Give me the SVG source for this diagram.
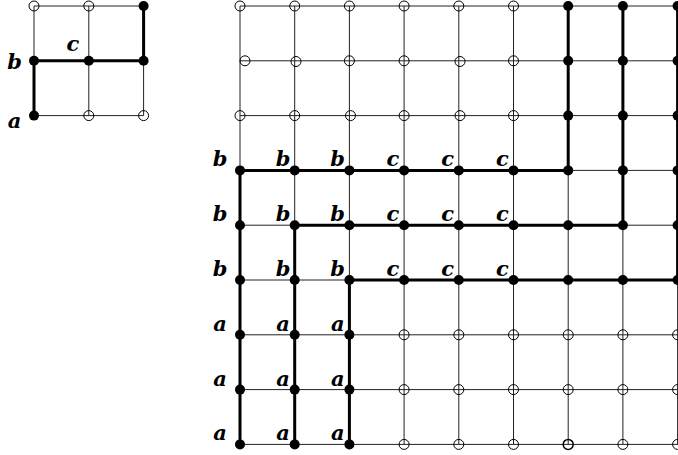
<svg xmlns="http://www.w3.org/2000/svg" width="678" height="455" viewBox="0 0 678 455">
<style>
.grid{stroke:#222;stroke-width:1;fill:none}
.path{stroke:#000;stroke-width:3;fill:none;stroke-linejoin:miter}
.o{fill:none;stroke:#000;stroke-width:1}
.f{fill:#000;stroke:none}
.lbl{font-family:"DejaVu Serif","Liberation Serif",serif;font-weight:bold;font-style:italic;font-size:21px;fill:#000;text-anchor:middle}
</style>
<g id="connectors">
<path class="grid" d="M34,6H143.6M34,60.8H143.6M34,115.6H143.6M34,6V115.6M88.8,6V115.6M143.6,6V115.6"/>
<path class="grid" d="M240,6H678M240,60.8H678M240,115.6H678M240,170.4H678M240,225.2H678M240,280H678M240,334.8H678M240,389.6H678M240,444.4H678
M240,6V444.4M294.7,6V444.4M349.4,6V444.4M404.1,6V444.4M458.8,6V444.4M513.5,6V444.4M568.2,6V444.4M622.9,6V444.4M677.6,6V444.4"/>
<path class="path" d="M34,115.6V60.8H143.6V6"/>
<path class="path" d="M240,444.4V170.4H568.2V6"/>
<path class="path" d="M294.7,444.4V225.2H622.9V6"/>
<path class="path" d="M349.4,444.4V280H677.6V6"/>
</g>
<g id="small-grid">
<g id="s00"><circle class="o" cx="34" cy="6" r="5"/></g>
<g id="s10"><circle class="o" cx="88.8" cy="6" r="5"/></g>
<g id="s20"><circle class="f" cx="143.6" cy="6" r="5"/></g>
<g id="s01"><circle class="f" cx="34" cy="60.8" r="5"/></g>
<g id="s11"><circle class="f" cx="88.8" cy="60.8" r="5"/></g>
<g id="s21"><circle class="f" cx="143.6" cy="60.8" r="5"/></g>
<g id="s02"><circle class="f" cx="34" cy="115.6" r="5"/></g>
<g id="s12"><circle class="o" cx="88.8" cy="115.6" r="5"/></g>
<g id="s22"><circle class="o" cx="143.6" cy="115.6" r="5"/></g>
<text class="lbl" x="14.5" y="69">b</text>
<text class="lbl" x="14.5" y="128">a</text>
<text class="lbl" x="73" y="51">c</text>
</g>
<g id="large-grid">
<g id="n0-0"><circle class="o" cx="240" cy="6" r="5"/></g>
<g id="n1-0"><circle class="o" cx="294.7" cy="6" r="5"/></g>
<g id="n2-0"><circle class="o" cx="349.4" cy="6" r="5"/></g>
<g id="n3-0"><circle class="o" cx="404.1" cy="6" r="5"/></g>
<g id="n4-0"><circle class="o" cx="458.8" cy="6" r="5"/></g>
<g id="n5-0"><circle class="o" cx="513.5" cy="6" r="5"/></g>
<g id="n6-0"><circle class="f" cx="568.2" cy="6" r="5"/></g>
<g id="n7-0"><circle class="f" cx="622.9" cy="6" r="5"/></g>
<g id="n8-0"><circle class="f" cx="677.6" cy="6" r="5"/></g>
<g id="n0-1"><circle class="o" cx="245" cy="60.8" r="5"/></g>
<g id="n1-1"><circle class="o" cx="296" cy="61.5" r="5"/></g>
<g id="n2-1"><circle class="o" cx="349.4" cy="60.8" r="5"/></g>
<g id="n3-1"><circle class="o" cx="404.1" cy="60.8" r="5"/></g>
<g id="n4-1"><circle class="o" cx="460" cy="61.5" r="5"/></g>
<g id="n5-1"><circle class="o" cx="513.5" cy="60.8" r="5"/></g>
<g id="n6-1"><circle class="f" cx="568.2" cy="60.8" r="5"/></g>
<g id="n7-1"><circle class="f" cx="622.9" cy="60.8" r="5"/></g>
<g id="n8-1"><circle class="f" cx="677.6" cy="60.8" r="5"/></g>
<g id="n0-2"><circle class="o" cx="240" cy="115.6" r="5"/></g>
<g id="n1-2"><circle class="o" cx="294.7" cy="115.6" r="5"/></g>
<g id="n2-2"><circle class="o" cx="350.5" cy="115.6" r="5"/></g>
<g id="n3-2"><circle class="o" cx="404.1" cy="115.6" r="5"/></g>
<g id="n4-2"><circle class="o" cx="460" cy="115.6" r="5"/></g>
<g id="n5-2"><circle class="o" cx="513.5" cy="115.6" r="5"/></g>
<g id="n6-2"><circle class="f" cx="568.2" cy="115.6" r="5"/></g>
<g id="n7-2"><circle class="f" cx="622.9" cy="115.6" r="5"/></g>
<g id="n8-2"><circle class="f" cx="677.6" cy="115.6" r="5"/></g>
<g id="n0-3"><circle class="f" cx="240" cy="170.4" r="5"/></g>
<g id="n1-3"><circle class="f" cx="294.7" cy="170.4" r="5"/></g>
<g id="n2-3"><circle class="f" cx="349.4" cy="170.4" r="5"/></g>
<g id="n3-3"><circle class="f" cx="404.1" cy="170.4" r="5"/></g>
<g id="n4-3"><circle class="f" cx="458.8" cy="170.4" r="5"/></g>
<g id="n5-3"><circle class="f" cx="513.5" cy="170.4" r="5"/></g>
<g id="n6-3"><circle class="f" cx="568.2" cy="170.4" r="5"/></g>
<g id="n7-3"><circle class="f" cx="622.9" cy="170.4" r="5"/></g>
<g id="n8-3"><circle class="f" cx="677.6" cy="170.4" r="5"/></g>
<g id="n0-4"><circle class="f" cx="240" cy="225.2" r="5"/></g>
<g id="n1-4"><circle class="f" cx="294.7" cy="225.2" r="5"/></g>
<g id="n2-4"><circle class="f" cx="349.4" cy="225.2" r="5"/></g>
<g id="n3-4"><circle class="f" cx="404.1" cy="225.2" r="5"/></g>
<g id="n4-4"><circle class="f" cx="458.8" cy="225.2" r="5"/></g>
<g id="n5-4"><circle class="f" cx="513.5" cy="225.2" r="5"/></g>
<g id="n6-4"><circle class="f" cx="568.2" cy="225.2" r="5"/></g>
<g id="n7-4"><circle class="f" cx="622.9" cy="225.2" r="5"/></g>
<g id="n8-4"><circle class="f" cx="677.6" cy="225.2" r="5"/></g>
<g id="n0-5"><circle class="f" cx="240" cy="280" r="5"/></g>
<g id="n1-5"><circle class="f" cx="294.7" cy="280" r="5"/></g>
<g id="n2-5"><circle class="f" cx="349.4" cy="280" r="5"/></g>
<g id="n3-5"><circle class="f" cx="404.1" cy="280" r="5"/></g>
<g id="n4-5"><circle class="f" cx="458.8" cy="280" r="5"/></g>
<g id="n5-5"><circle class="f" cx="513.5" cy="280" r="5"/></g>
<g id="n6-5"><circle class="f" cx="568.2" cy="280" r="5"/></g>
<g id="n7-5"><circle class="f" cx="622.9" cy="280" r="5"/></g>
<g id="n8-5"><circle class="f" cx="677.6" cy="280" r="5"/></g>
<g id="n0-6"><circle class="f" cx="240" cy="334.8" r="5"/></g>
<g id="n1-6"><circle class="f" cx="294.7" cy="334.8" r="5"/></g>
<g id="n2-6"><circle class="f" cx="349.4" cy="334.8" r="5"/></g>
<g id="n3-6"><circle class="o" cx="404.1" cy="334.8" r="5"/></g>
<g id="n4-6"><circle class="o" cx="458.8" cy="334.8" r="5"/></g>
<g id="n5-6"><circle class="o" cx="513.5" cy="334.8" r="5"/></g>
<g id="n6-6"><circle class="o" cx="568.2" cy="334.8" r="5"/></g>
<g id="n7-6"><circle class="o" cx="622.9" cy="334.8" r="5"/></g>
<g id="n8-6"><circle class="o" cx="677.6" cy="334.8" r="5"/></g>
<g id="n0-7"><circle class="f" cx="240" cy="389.6" r="5"/></g>
<g id="n1-7"><circle class="f" cx="294.7" cy="389.6" r="5"/></g>
<g id="n2-7"><circle class="f" cx="349.4" cy="389.6" r="5"/></g>
<g id="n3-7"><circle class="o" cx="404.1" cy="389.6" r="5"/></g>
<g id="n4-7"><circle class="o" cx="458.8" cy="389.6" r="5"/></g>
<g id="n5-7"><circle class="o" cx="513.5" cy="389.6" r="5"/></g>
<g id="n6-7"><circle class="o" cx="568.2" cy="389.6" r="5"/></g>
<g id="n7-7"><circle class="o" cx="622.9" cy="389.6" r="5"/></g>
<g id="n8-7"><circle class="o" cx="677.6" cy="389.6" r="5"/></g>
<g id="n0-8"><circle class="f" cx="240" cy="444.4" r="5"/></g>
<g id="n1-8"><circle class="f" cx="294.7" cy="444.4" r="5"/></g>
<g id="n2-8"><circle class="f" cx="349.4" cy="444.4" r="5"/></g>
<g id="n3-8"><circle class="o" cx="404.1" cy="444.4" r="5"/></g>
<g id="n4-8"><circle class="o" cx="458.8" cy="444.4" r="5"/></g>
<g id="n5-8"><circle class="o" cx="513.5" cy="444.4" r="5"/></g>
<g id="n6-8"><circle class="o" cx="568.2" cy="444.4" r="5" style="stroke-width:1.5"/></g>
<g id="n7-8"><circle class="o" cx="622.9" cy="444.4" r="5"/></g>
<g id="n8-8"><circle class="o" cx="677.6" cy="444.4" r="5"/></g>
</g>
<g id="labels">
<text class="lbl" x="220" y="166.4">b</text>
<text class="lbl" x="283" y="166.4">b</text>
<text class="lbl" x="337.7" y="166.4">b</text>
<text class="lbl" x="393" y="166.4">c</text>
<text class="lbl" x="447.7" y="166.4">c</text>
<text class="lbl" x="502.4" y="166.4">c</text>
<text class="lbl" x="220" y="221.2">b</text>
<text class="lbl" x="283" y="221.2">b</text>
<text class="lbl" x="337.7" y="221.2">b</text>
<text class="lbl" x="393" y="221.2">c</text>
<text class="lbl" x="447.7" y="221.2">c</text>
<text class="lbl" x="502.4" y="221.2">c</text>
<text class="lbl" x="220" y="276">b</text>
<text class="lbl" x="283" y="276">b</text>
<text class="lbl" x="337.7" y="276">b</text>
<text class="lbl" x="393" y="276">c</text>
<text class="lbl" x="447.7" y="276">c</text>
<text class="lbl" x="502.4" y="276">c</text>
<text class="lbl" x="220" y="330.8">a</text>
<text class="lbl" x="283" y="330.8">a</text>
<text class="lbl" x="337.7" y="330.8">a</text>
<text class="lbl" x="220" y="385.6">a</text>
<text class="lbl" x="283" y="385.6">a</text>
<text class="lbl" x="337.7" y="385.6">a</text>
<text class="lbl" x="220" y="440.4">a</text>
<text class="lbl" x="283" y="440.4">a</text>
<text class="lbl" x="337.7" y="440.4">a</text>
</g>
</svg>
